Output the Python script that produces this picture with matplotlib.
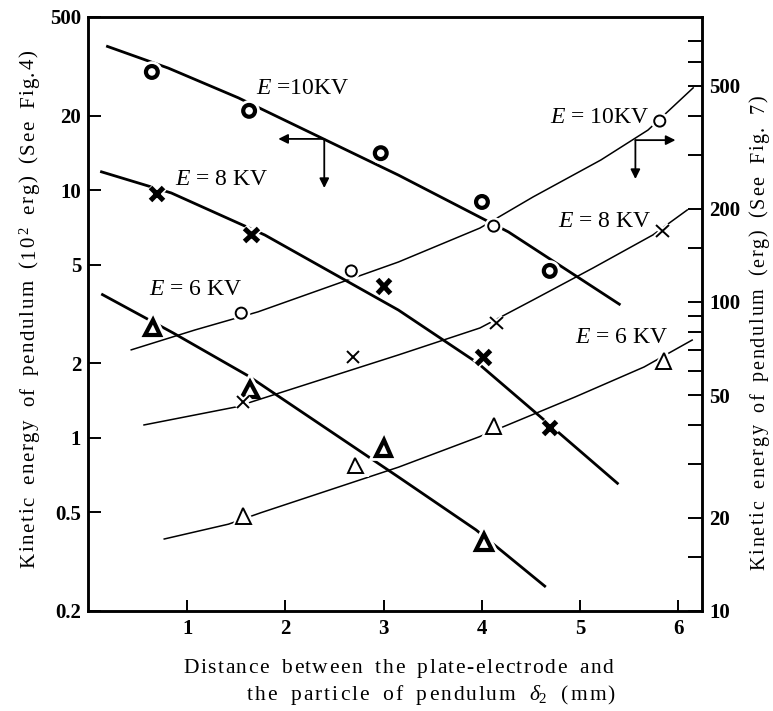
import matplotlib
matplotlib.use("Agg")
import matplotlib.pyplot as plt
import matplotlib.patheffects as pe
from matplotlib.ticker import NullLocator, NullFormatter

plt.rcParams['font.family'] = ['Liberation Serif', 'DejaVu Serif']
plt.rcParams['mathtext.fontset'] = 'custom'
plt.rcParams['mathtext.rm'] = 'Liberation Serif'
plt.rcParams['mathtext.it'] = 'Liberation Serif:italic'

# ---------------- data ----------------
# left axis (10^2 erg), bold markers
e10_x = [0.64, 1.63, 2.97, 4.00, 4.69]
e10_y = [30.0, 20.9, 14.1, 8.96, 4.72]
e8_x = [0.69, 1.65, 3.00, 4.01, 4.69]
e8_y = [9.7, 6.6, 4.1, 2.12, 1.10]
e6_x = [0.65, 1.64, 3.00, 4.02]
e6_y = [2.78, 1.57, 0.91, 0.38]

# left axis fitted curves
c10_x = [0.175, 0.807, 1.519, 3.15, 4.27, 5.41]
c10_y = [38.2, 31.1, 23.6, 11.5, 6.78, 3.44]
c8_x = [0.114, 0.838, 1.79, 3.15, 3.96, 4.53, 5.39]
c8_y = [11.9, 9.74, 6.59, 3.28, 2.0, 1.28, 0.65]
c6_x = [0.125, 0.858, 1.62, 3.15, 3.94, 4.65]
c6_y = [3.81, 2.65, 1.78, 0.695, 0.425, 0.25]

# right axis (erg), thin markers
t10_x = [1.55, 2.67, 4.12, 5.81]
t10_y = [92, 126, 176, 385]
t8_x = [1.57, 2.69, 4.15, 5.84]
t8_y = [47.5, 66.4, 85.5, 170]
t6_x = [1.57, 2.71, 4.12, 5.85]
t6_y = [20.3, 29.5, 39.7, 64.4]

# right axis fitted curves
ct10_x = [0.43, 1.08, 1.72, 3.15, 3.98, 4.52, 5.21, 5.69, 6.15]
ct10_y = [70, 81.2, 92.9, 134.7, 173.5, 218.7, 288, 360, 493]
ct8_x = [0.56, 1.49, 3.15, 3.98, 4.52, 5.13, 5.74, 6.09]
ct8_y = [40.0, 45.7, 67.4, 82.4, 101.5, 128.8, 164.8, 198.5]
ct6_x = [0.766, 1.42, 1.75, 3.15, 3.97, 4.95, 5.65, 6.14]
ct6_y = [17.1, 19.1, 20.8, 29.2, 36.6, 49.3, 61.6, 75.3]

# ticks
x_ticks = [1, 2, 3, 4, 5, 6]
x_labels = ['1', '2', '3', '4', '5', '6']
left_ticks = [0.2, 0.5, 1, 2, 5, 10, 20, 50]
left_labels = ['0.2', '0.5', '1', '2', '5', '10', '20', '500']
right_ticks = [10, 20, 50, 100, 200, 500]
right_labels = ['10', '20', '50', '100', '200', '500']
right_minor = [15, 30, 40, 60, 70, 80, 90, 150, 300, 400, 600, 700]

# texts
left_title = 'Kinetic energy of pendulum (10$^2$ erg) (See Fig.4)'
right_title = 'Kinetic energy of pendulum (erg) (See Fig. 7)'
x_title_1 = 'Distance between the plate-electrode and'
x_title_2 = 'the particle of pendulum $\\delta_2$ (mm)'

# ---------------- figure ----------------
W, H = 773, 711
fig = plt.figure(figsize=(W / 100, H / 100), dpi=100)
ax = fig.add_axes([88 / W, 100 / H, 614 / W, 594 / H])
ax.set_yscale('log')
ax.set_xlim(-0.01, 6.24)
ax.set_ylim(0.2, 50)
ax2 = ax.twinx()
ax2.set_yscale('log')
ax2.set_ylim(10, 836)

for a in (ax, ax2):
    for s in a.spines.values():
        s.set_linewidth(1.8)

ax.set_xticks(x_ticks)
ax.set_xticklabels(x_labels)
ax.set_yticks(left_ticks)
ax.set_yticklabels(left_labels)
ax.yaxis.set_minor_locator(NullLocator())
ax.xaxis.set_minor_locator(NullLocator())
ax.tick_params(axis='y', which='major', direction='in', length=9, width=1.4,
               labelsize=15, pad=5)
ax.tick_params(axis='x', which='major', direction='in', length=8, width=1.4,
               labelsize=15, pad=6)

ax2.set_yticks(right_ticks)
ax2.set_yticklabels(right_labels)
ax2.set_yticks(right_minor, minor=True)
ax2.yaxis.set_minor_formatter(NullFormatter())
ax2.tick_params(axis='y', which='both', direction='in', length=10, width=1.4,
                labelsize=15, pad=5)
for lab in ax.get_xticklabels() + ax.get_yticklabels() + ax2.get_yticklabels():
    lab.set_fontweight('bold')

halo = [pe.withStroke(linewidth=7, foreground='white')]
halo_t = [pe.withStroke(linewidth=5, foreground='white')]

# thick curves (left axis)
for cx, cy in ((c10_x, c10_y), (c8_x, c8_y), (c6_x, c6_y)):
    ax.plot(cx, cy, color='black', lw=2.0, solid_capstyle='butt', zorder=2)

# thin curves (right axis)
for cx, cy in ((ct10_x, ct10_y), (ct8_x, ct8_y), (ct6_x, ct6_y)):
    ax2.plot(cx, cy, color='black', lw=1.1, zorder=2)

# bold markers
ax.plot(e10_x, e10_y, ls='none', marker='o', ms=8.5, mfc='white', mec='black',
        mew=3.0, path_effects=halo, zorder=4)
ax.plot(e8_x, e8_y, ls='none', marker='x', ms=9.5, mec='black', mew=3.6,
        path_effects=halo, zorder=4)
ax.plot(e6_x, e6_y, ls='none', marker='^', ms=11, mfc='white', mec='black',
        mew=3.0, path_effects=halo, zorder=4)

# thin markers
ax2.plot(t10_x, t10_y, ls='none', marker='o', ms=8, mfc='white', mec='black',
         mew=1.4, path_effects=halo_t, zorder=4)
ax2.plot(t8_x, t8_y, ls='none', marker='x', ms=9, mec='black', mew=1.4,
         path_effects=halo_t, zorder=4)
ax2.plot(t6_x, t6_y, ls='none', marker='^', ms=11, mfc='white', mec='black',
         mew=1.4, path_effects=halo_t, zorder=4)

# curve labels
lab_kw = dict(fontsize=17, va='center', ha='left', transform=ax.transAxes)
ax.text(0.2736, 0.879, '$E$ =10KV', **lab_kw)
ax.text(0.1417, 0.7256, '$E$ = 8 KV', **lab_kw)
ax.text(0.0993, 0.542, '$E$ = 6 KV', **lab_kw)
ax.text(0.752, 0.830, '$E$ = 10KV', **lab_kw)
ax.text(0.7655, 0.655, '$E$ = 8 KV', **lab_kw)
ax.text(0.793, 0.4596, '$E$ = 6 KV', **lab_kw)

# axis-pointing arrows
arr = dict(arrowstyle='-|>', color='black', lw=1.3, mutation_scale=14,
           shrinkA=0, shrinkB=0)
ax.annotate('', xy=(1.927, 16.1), xytext=(2.395, 16.1), arrowprops=arr)
ax.annotate('', xy=(2.395, 10.2), xytext=(2.395, 16.1), arrowprops=arr)
ax2.annotate('', xy=(5.97, 334), xytext=(5.562, 334), arrowprops=arr)
ax2.annotate('', xy=(5.562, 250), xytext=(5.562, 334), arrowprops=arr)


# ---------- letter-spaced titles (the original is widely tracked) ----------
def tokens_of(s):
    out = []
    parts = s.split('$')
    for i, p in enumerate(parts):
        if i % 2 == 1:
            out.append('$' + p + '$')
        else:
            out.extend(list(p))
    return out


renderer = fig.canvas.get_renderer()


def tracked(s, start, end, fixed, size, vertical):
    toks = tokens_of(s)
    widths = []
    for t in toks:
        if t == ' ':
            widths.append(size * 100 / 72 * 0.45)
            continue
        tmp = fig.text(0, 0, t, fontsize=size)
        widths.append(tmp.get_window_extent(renderer).width)
        tmp.remove()
    track = (abs(end - start) - sum(widths)) / (len(toks) - 1)
    pos = start
    step = -1 if vertical else 1
    for t, w in zip(toks, widths):
        if t != ' ':
            if vertical:
                fig.text(fixed / W, 1 - pos / H, t, rotation=90,
                         rotation_mode='anchor', ha='left', va='baseline',
                         fontsize=size)
            else:
                fig.text(pos / W, 1 - fixed / H, t, ha='left', va='baseline',
                         fontsize=size)
        pos += step * (w + track)


tracked(left_title, 568, 50, 34, 15, True)
tracked(right_title, 570, 95, 764, 14.5, True)
tracked(x_title_1, 183, 613, 673, 15.5, False)
tracked(x_title_2, 247, 615, 700, 15.5, False)

fig.savefig('out.png', dpi=100)
